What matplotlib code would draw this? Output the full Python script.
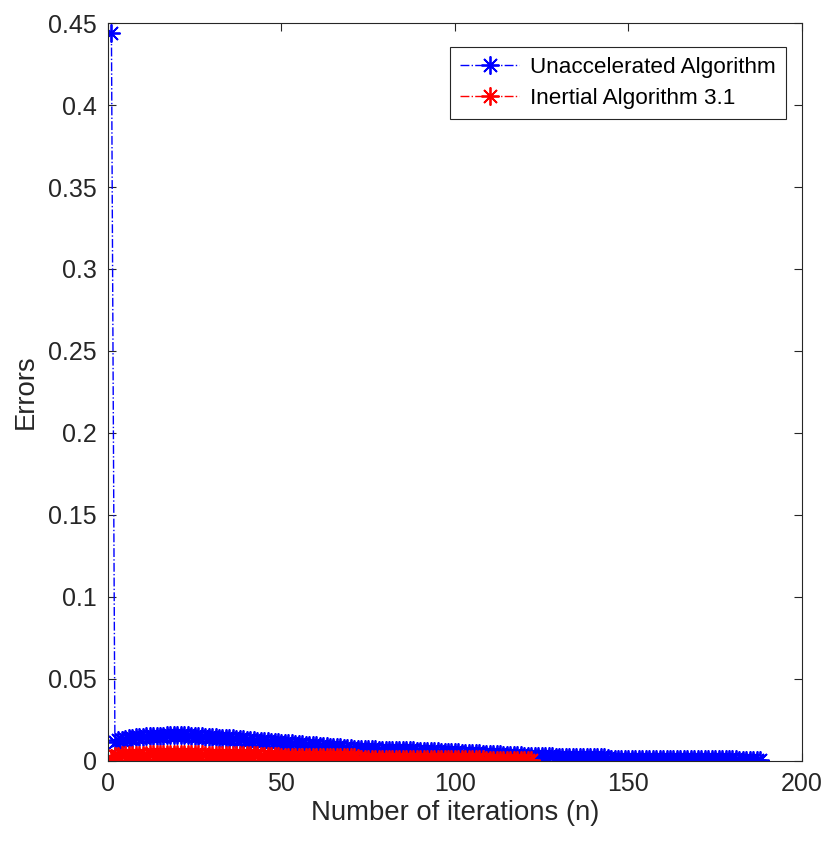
import matplotlib
matplotlib.use("Agg")
import matplotlib.pyplot as plt
import numpy as np

# errors per iteration
unacc_err = [
    0.4440, 0.0115, 0.0125, 0.0130, 0.0135, 0.0140, 0.0142, 0.0144, 0.0146, 0.0148,
    0.0150, 0.0151, 0.0152, 0.0153, 0.0154, 0.0155, 0.0156, 0.0157, 0.0157, 0.0158,
    0.0158, 0.0157, 0.0156, 0.0155, 0.0154, 0.0152, 0.0150, 0.0148, 0.0146, 0.0145,
    0.0144, 0.0143, 0.0142, 0.0141, 0.0140, 0.0138, 0.0136, 0.0134, 0.0132, 0.0130,
    0.0128, 0.0126, 0.0124, 0.0122, 0.0120, 0.0119, 0.0118, 0.0116, 0.0114, 0.0112,
    0.0110, 0.0108, 0.0107, 0.0106, 0.0104, 0.0102, 0.0100, 0.0098, 0.0097, 0.0096,
    0.0094, 0.0092, 0.0090, 0.0088, 0.0086, 0.0085, 0.0084, 0.0082, 0.0080, 0.0078,
    0.0076, 0.0075, 0.0074, 0.0073, 0.0072, 0.0071, 0.0070, 0.0069, 0.0068, 0.0068,
    0.0067, 0.0067, 0.0066, 0.0066, 0.0065, 0.0065, 0.0064, 0.0064, 0.0063, 0.0063,
    0.0062, 0.0062, 0.0061, 0.0060, 0.0058, 0.0057, 0.0056, 0.0055, 0.0054, 0.0053,
    0.0052, 0.0051, 0.0050, 0.0049, 0.0048, 0.0047, 0.0046, 0.0045, 0.0044, 0.0043,
    0.0042, 0.0041, 0.0040, 0.0039, 0.0038, 0.0037, 0.0036, 0.0035, 0.0034, 0.0033,
    0.0032, 0.0031, 0.0030, 0.0029, 0.0029, 0.0028, 0.0028, 0.0028, 0.0027, 0.0027,
    0.0027, 0.0027, 0.0026, 0.0026, 0.0026, 0.0026, 0.0026, 0.0025, 0.0025, 0.0025,
    0.0025, 0.0025, 0.0024, 0.0016, 0.0015, 0.0015, 0.0015, 0.0015, 0.0015, 0.0015,
    0.0014, 0.0014, 0.0014, 0.0014, 0.0014, 0.0014, 0.0014, 0.0013, 0.0013, 0.0013,
    0.0013, 0.0013, 0.0013, 0.0013, 0.0012, 0.0012, 0.0012, 0.0012, 0.0012, 0.0012,
    0.0012, 0.0011, 0.0011, 0.0011, 0.0011, 0.0011, 0.0011, 0.0011, 0.0010, 0.0010,
    0.0010, 0.0008, 0.0007, 0.0007, 0.0006, 0.0006, 0.0005, 0.0005,
]

inertial_err = [
    0.0020, 0.0028, 0.0032, 0.0034, 0.0035, 0.0036, 0.0037, 0.0038, 0.0038, 0.0039,
    0.0039, 0.0040, 0.0040, 0.0040, 0.0041, 0.0041, 0.0041, 0.0041, 0.0041, 0.0041,
    0.0041, 0.0041, 0.0041, 0.0040, 0.0040, 0.0040, 0.0040, 0.0039, 0.0039, 0.0039,
    0.0039, 0.0039, 0.0038, 0.0038, 0.0038, 0.0038, 0.0037, 0.0037, 0.0037, 0.0036,
    0.0036, 0.0035, 0.0034, 0.0030, 0.0029, 0.0029, 0.0028, 0.0028, 0.0028, 0.0027,
    0.0027, 0.0027, 0.0026, 0.0026, 0.0026, 0.0025, 0.0025, 0.0025, 0.0025, 0.0024,
    0.0024, 0.0024, 0.0024, 0.0024, 0.0023, 0.0023, 0.0023, 0.0023, 0.0022, 0.0022,
    0.0022, 0.0021, 0.0014, 0.0014, 0.0014, 0.0013, 0.0013, 0.0013, 0.0013, 0.0013,
    0.0013, 0.0013, 0.0012, 0.0012, 0.0012, 0.0012, 0.0012, 0.0012, 0.0012, 0.0012,
    0.0012, 0.0011, 0.0011, 0.0011, 0.0011, 0.0011, 0.0011, 0.0011, 0.0011, 0.0010,
    0.0010, 0.0010, 0.0010, 0.0010, 0.0010, 0.0010, 0.0010, 0.0010, 0.0009, 0.0008,
    0.0004, 0.0004, 0.0004, 0.0003, 0.0003, 0.0003, 0.0003, 0.0003, 0.0003, 0.0003,
    0.0003, 0.0003,
]

xticks = [0, 50, 100, 150, 200]
yticks = [0, 0.05, 0.1, 0.15, 0.2, 0.25, 0.3, 0.35, 0.4, 0.45]
ytick_labels = ["0", "0.05", "0.1", "0.15", "0.2", "0.25", "0.3", "0.35", "0.4", "0.45"]

plt.rcParams['font.family'] = ['Liberation Sans', 'DejaVu Sans']

n_unacc = np.arange(1, len(unacc_err) + 1)
n_inert = np.arange(1, len(inertial_err) + 1)

fig = plt.figure(figsize=(8.37, 8.46), dpi=100)
ax = fig.add_axes([0.129, 0.1005, 0.829, 0.8723])

star = (8, 2, 0)
ax.plot(n_unacc, unacc_err, color=(0, 0, 1), linestyle='-.', linewidth=1,
        marker=star, markersize=13, markeredgewidth=1.3, label='Unaccelerated Algorithm')
ax.plot(n_inert, inertial_err, color=(1, 0, 0), linestyle='-.', linewidth=1,
        marker=star, markersize=13, markeredgewidth=1.3, label='Inertial Algorithm 3.1')

ax.set_xlim(0, 200)
ax.set_ylim(0, 0.45)
ax.set_xticks(xticks)
ax.set_yticks(yticks)
ax.set_yticklabels(ytick_labels)
ax.tick_params(direction='in', top=True, right=True, labelsize=18, length=6,
               color='#262626', labelcolor='#262626')
ax.tick_params(axis='y', pad=8)
ax.tick_params(axis='x', pad=8)
for s in ax.spines.values():
    s.set_color('#262626')
    s.set_linewidth(0.8)

ax.set_xlabel('Number of iterations (n)', fontsize=19.8, color='#262626', labelpad=3)
ax.set_ylabel('Errors', fontsize=19.8, color='#262626', labelpad=7)

leg = ax.legend(loc='upper right', bbox_to_anchor=(0.977, 0.968), fontsize=16.2,
                fancybox=False, framealpha=1, edgecolor='#262626',
                handlelength=2.6, borderpad=0.45, labelspacing=0.45, handletextpad=0.5,
                borderaxespad=0)
leg.get_frame().set_linewidth(0.8)

fig.savefig('out.png', dpi=100)
